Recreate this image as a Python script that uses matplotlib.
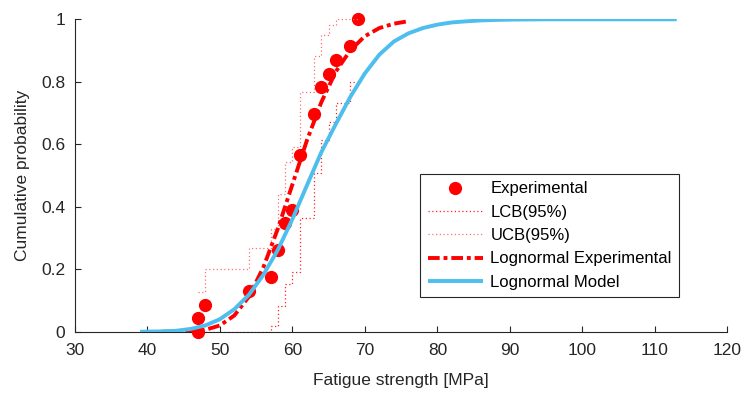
import numpy as np
import matplotlib.pyplot as plt
from matplotlib.ticker import FuncFormatter

# experimental ECDF points
exp_x = [47, 47, 48, 54, 57, 58, 59, 60, 61, 63, 64, 65, 66, 68, 69]
exp_y = [0.0, 0.043, 0.087, 0.130, 0.174, 0.261, 0.348, 0.391, 0.565,
         0.696, 0.783, 0.826, 0.870, 0.913, 1.0]

# 95% confidence bounds (stairs)
lcb_x = [47, 48, 54, 57, 58, 59, 60, 61, 63, 64, 65, 66, 68, 69]
lcb_y = [0.0, 0.0, 0.0, 0.019, 0.081, 0.153, 0.192, 0.363, 0.508,
         0.614, 0.671, 0.732, 0.798, 0.798]
ucb_x = [47, 48, 54, 57, 58, 59, 60, 61, 63, 64, 65, 66, 68, 69]
ucb_y = [0.127, 0.202, 0.268, 0.329, 0.440, 0.542, 0.591, 0.768, 0.884,
         0.951, 0.981, 1.0, 1.0, 1.0]

# lognormal fit to the experiments
fit_x = [42, 44, 46, 48, 50, 52, 54, 56, 58, 60, 62, 64, 66, 68, 70, 72, 74, 76]
fit_y = [0.0, 0.0003, 0.0015, 0.006, 0.020, 0.052, 0.112, 0.206, 0.330,
         0.471, 0.612, 0.735, 0.833, 0.901, 0.946, 0.972, 0.986, 0.994]

# lognormal model
mod_x = [39, 42, 44, 46, 48, 50, 52, 54, 56, 58, 60, 62, 64, 66, 68, 70, 72,
         74, 76, 78, 80, 82, 84, 86, 88, 90, 95, 100, 113]
mod_y = [0.0, 0.001, 0.003, 0.009, 0.020, 0.040, 0.072, 0.118, 0.182, 0.262,
         0.360, 0.468, 0.575, 0.665, 0.752, 0.827, 0.887, 0.929, 0.955,
         0.972, 0.983, 0.990, 0.9936, 0.9964, 0.998, 0.999, 1.0, 1.0, 1.0]

plt.rcParams['font.family'] = ['Liberation Sans', 'DejaVu Sans']
dark = '#262626'
blue = '#4DBEEE'

fig = plt.figure(figsize=(7.45, 3.94), dpi=100)
ax = fig.add_axes([0.1004, 0.1581, 0.8761, 0.7929])

ax.plot(exp_x, exp_y, 'o', color='red', markersize=8.5, label='Experimental',
        clip_on=False, zorder=3)
ax.step(lcb_x, lcb_y, where='post', color='#ff2020', lw=0.9, ls=(0, (1, 2)),
        label='LCB(95%)', zorder=3)
ax.step(ucb_x, ucb_y, where='post', color='#ff7070', lw=0.9, ls=(0, (1, 2)),
        label='UCB(95%)', zorder=3)
ax.plot(fit_x, fit_y, color='red', lw=2.8, dashes=(3, 1, 1, 1),
        label='Lognormal Experimental', zorder=4)
ax.plot(mod_x, mod_y, color=blue, lw=2.8, label='Lognormal Model', zorder=5,
        solid_capstyle='butt')

ax.set_xlim(30, 120)
ax.set_ylim(0, 1)
ax.set_xticks(np.arange(30, 121, 10))
ax.set_yticks([0, 0.2, 0.4, 0.6, 0.8, 1.0])
ax.yaxis.set_major_formatter(FuncFormatter(lambda v, p: '%g' % v))

for s in ['top', 'right']:
    ax.spines[s].set_visible(False)
for s in ['left', 'bottom']:
    ax.spines[s].set_color(dark)
    ax.spines[s].set_linewidth(0.8)
ax.tick_params(direction='in', length=4.5, width=0.8, color=dark,
               labelcolor=dark, labelsize=12.5)
ax.tick_params(axis='x', pad=8)
ax.tick_params(axis='y', pad=7)

ax.set_xlabel('Fatigue strength [MPa]', fontsize=12.5, color=dark, labelpad=11)
ax.set_ylabel('Cumulative probability', fontsize=12.5, color=dark, labelpad=8)

leg = ax.legend(loc='upper left', bbox_to_anchor=(0.529, 0.505), fontsize=12,
                frameon=True, fancybox=False, edgecolor=dark, framealpha=1,
                handlelength=3.35, handletextpad=0.42, labelspacing=0.5,
                borderpad=0.45, borderaxespad=0)
leg.get_frame().set_linewidth(0.8)

fig.savefig('out.png', dpi=100)
